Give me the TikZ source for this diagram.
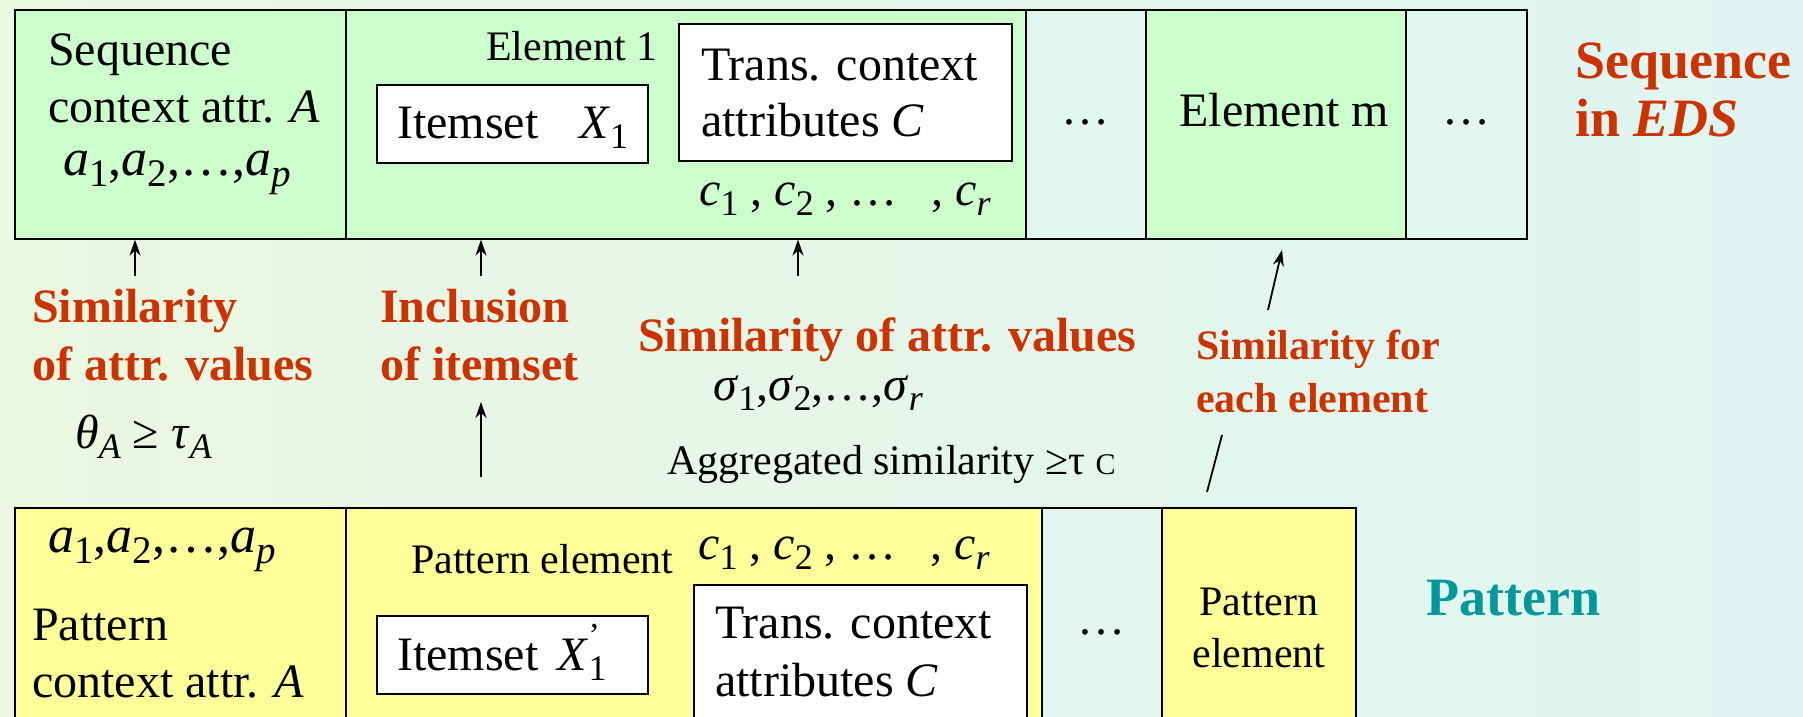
\documentclass[tikz,border=0pt]{standalone}
\usepackage{fontspec}
\usepackage{graphicx}
\setmainfont{Liberation Serif}
\usetikzlibrary{arrows.meta}
\definecolor{redt}{RGB}{204,51,0}
\definecolor{tealt}{RGB}{0,153,153}
\definecolor{gfill}{RGB}{204,255,204}
\definecolor{yfill}{RGB}{255,255,153}
\definecolor{lfill}{RGB}{226,246,240}
\definecolor{bgl}{RGB}{234,247,225}
\definecolor{bgr}{RGB}{224,245,242}
\newcommand\sbs[1]{\raisebox{-0.22em}{\scalebox{0.75}{#1}}}
\tikzset{
  cell/.style={draw=black, line width=1.6pt, anchor=north west, inner sep=0pt},
  wbox/.style={draw=black, line width=1.6pt, fill=white, anchor=north west, inner sep=0pt},
  tx/.style={inner sep=0pt, anchor=base west, font=\fontsize{48}{58}\selectfont},
  txa/.style={inner sep=0pt, anchor=base west, font=\fontsize{52}{60}\selectfont},
  txs/.style={inner sep=0pt, anchor=base west, font=\fontsize{42}{50}\selectfont},
  txc/.style={inner sep=0pt, anchor=base, font=\fontsize{48}{58}\selectfont},
  txsc/.style={inner sep=0pt, anchor=base, font=\fontsize{42}{50}\selectfont},
  rlab/.style={inner sep=0pt, anchor=base west, text=redt, font=\fontsize{48}{58}\selectfont\bfseries},
  rlabs/.style={inner sep=0pt, anchor=base west, text=redt, font=\fontsize{42}{50}\selectfont\bfseries},
  big/.style={inner sep=0pt, anchor=base west, font=\fontsize{54}{62}\selectfont\bfseries},
  arr/.style={line width=1.8pt, -{Stealth[length=16pt,width=11pt]}},
  plain/.style={line width=1.8pt},
}
\begin{document}
\begin{tikzpicture}[x=1pt,y=-1pt]
\useasboundingbox (0,0) rectangle (1803,716);
\shade[left color=bgl, right color=bgr] (0,0) rectangle (1803,716);

% ---------- top row: sequence in EDS ----------
\node[cell, fill=gfill, minimum width=331pt, minimum height=229pt] (s1) at (14,9) {};
\node[cell, fill=gfill, minimum width=680pt, minimum height=229pt] (s2) at (345,9) {};
\node[cell, fill=lfill, minimum width=120pt, minimum height=229pt] (s3) at (1025,9) {};
\node[cell, fill=gfill, minimum width=260pt, minimum height=229pt] (s4) at (1145,9) {};
\node[cell, fill=lfill, minimum width=121pt, minimum height=229pt] (s5) at (1405,9) {};

\node[wbox, minimum width=271pt, minimum height=78pt] (ibox) at (376,84) {};
\node[wbox, minimum width=333pt, minimum height=137pt] (tbox) at (678,23) {};

\node[tx] (sq1) at (48,65) {Sequence};
\node[tx] (sq2) at (48,122) {context attr. \textit{A}};
\node[txa] (sq3) at (63,175) {\textit{a}\sbs{1},\textit{a}\sbs{2},…,\textit{a}\sbs{\textit{p}}};
\node[txs] (el1) at (486,60) {Element 1};
\node[tx] (its1) at (397,138) {Itemset\hspace{0.85em}\textit{X}\sbs{1}};
\node[tx] (tr1) at (701,80) {Trans. context};
\node[tx] (tr2) at (701,136) {attributes \textit{C}};
\node[tx] (cl1) at (699,205) {\textit{c}\sbs{1} , \textit{c}\sbs{2} , …\hspace{0.45em} , \textit{c}\sbs{\textit{r}}};
\node[txc] (d1) at (1085,124) {…};
\node[txc] (elm) at (1284,126) {Element m};
\node[txc] (d2) at (1466,124) {…};
\node[big, text=redt] (seqlab1) at (1575,78) {Sequence};
\node[big, text=redt] (seqlab2) at (1575,136) {in \textit{EDS}};

% ---------- middle labels ----------
\node[rlab] (r1a) at (32,322) {Similarity};
\node[rlab] (r1b) at (32,380) {of attr. values};
\node[tx] (theta) at (75,448) {\textit{θ}\sbs{\textit{A}} ≥ \textit{τ}\sbs{\textit{A}}};
\node[rlab] (r2a) at (380,322) {Inclusion};
\node[rlab] (r2b) at (380,380) {of itemset};
\node[rlab] (r3) at (638,351) {Similarity of attr. values};
\node[tx] (sig) at (713,400) {\textit{σ}\sbs{1},\textit{σ}\sbs{2},…,\textit{σ}\sbs{\textit{r}}};
\node[txs] (agg) at (667,474) {Aggregated similarity ≥τ {\fontsize{30}{30}\selectfont C}};
\node[rlabs] (r4a) at (1196,359) {Similarity for};
\node[rlabs] (r4b) at (1196,412) {each element};

\coordinate (a1) at (135,276);
\coordinate (a2) at (481,276);
\coordinate (a3) at (798,276);
\coordinate (a4s) at (1268,310);
\coordinate (a4e) at (1282,250);
\coordinate (a5s) at (481,477);
\coordinate (a5e) at (481,402);
\coordinate (l1s) at (1207,492);
\coordinate (l1e) at (1222,435);
\draw[arr] (a1) -- (a1 |- s1.south);
\draw[arr] (a2) -- (a2 |- s2.south);
\draw[arr] (a3) -- (a3 |- s2.south);
\draw[arr] (a4s) -- (a4e);
\draw[arr] (a5s) -- (a5e);
\draw[plain] (l1s) -- (l1e);

% ---------- bottom row: pattern ----------
\begin{scope}
\clip (0,0) rectangle (1803,716);
\node[cell, fill=yfill, minimum width=331pt, minimum height=240pt] (p1) at (14,507) {};
\node[cell, fill=yfill, minimum width=696pt, minimum height=240pt] (p2) at (345,507) {};
\node[cell, fill=lfill, minimum width=120pt, minimum height=240pt] (p3) at (1041,507) {};
\node[cell, fill=yfill, minimum width=194pt, minimum height=240pt] (p4) at (1161,507) {};
\node[wbox, minimum width=271pt, minimum height=78pt] (ibox2) at (376,615) {};
\node[wbox, minimum width=333pt, minimum height=160pt] (tbox2) at (693,584) {};
\end{scope}

\node[txa] (pa1) at (48,552) {\textit{a}\sbs{1},\textit{a}\sbs{2},…,\textit{a}\sbs{\textit{p}}};
\node[tx] (pa2) at (32,640) {Pattern};
\node[tx] (pa3) at (32,697) {context attr. \textit{A}};
\node[txs] (pel) at (411,573) {Pattern element};
\node[tx] (pcl) at (698,559) {\textit{c}\sbs{1} , \textit{c}\sbs{2} , …\hspace{0.45em} , \textit{c}\sbs{\textit{r}}};
\node[tx] (its2) at (397,670) {Itemset\hspace{0.4em}\textit{X}\rlap{\raisebox{0.5em}{\scalebox{0.7}{\char"27}}}\sbs{1}};
\node[tx] (ptr1) at (715,638) {Trans. context};
\node[tx] (ptr2) at (715,696) {attributes \textit{C}};
\node[txc] (pd) at (1101,634) {…};
\node[txsc] (pe1) at (1259,615) {Pattern};
\node[txsc] (pe2) at (1259,667) {element};
\node[big, text=tealt] (patlab) at (1426,615) {Pattern};
\end{tikzpicture}
\end{document}
